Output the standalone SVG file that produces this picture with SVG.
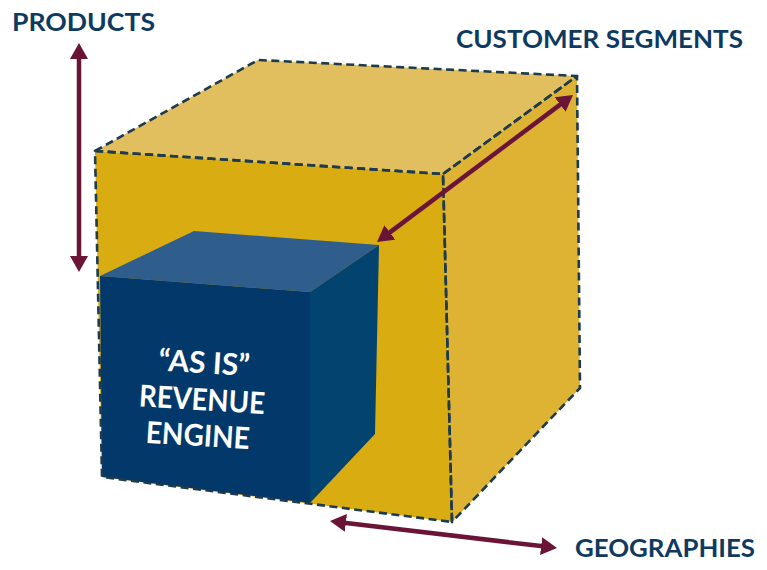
<svg xmlns="http://www.w3.org/2000/svg" width="767" height="570" viewBox="0 0 767 570">
<style>
.lbl{font-family:Lato,"Liberation Sans",sans-serif;font-weight:700;fill:#0E3A62;font-size:25px}
.inner{font-family:Lato,"Liberation Sans",sans-serif;font-weight:700;fill:#FFFFFF;font-size:30px;text-anchor:middle}
.dash{fill:none;stroke:#1D3B4C;stroke-width:2.6;stroke-dasharray:8 4.5;stroke-linejoin:round}
.arr{stroke:#6A1438;stroke-width:4.5;fill:none;marker-start:url(#head);marker-end:url(#head)}
</style>
<defs>
<marker id="head" viewBox="0 0 16 18" refX="2" refY="9" markerWidth="16" markerHeight="18" markerUnits="userSpaceOnUse" orient="auto-start-reverse">
<path d="M0,0 L16,9 L0,18 z" fill="#6A1438"/>
</marker>
</defs>
<rect width="767" height="570" fill="#FFFFFF"/>
<g id="outer-cube">
<polygon points="95,151 258,60 577,76 443,174" fill="#E1BF5E"/>
<polygon points="443,174 577,76 580,388 452,522" fill="#DEB232"/>
<polygon points="95,151 443,174 452,522 102,477" fill="#D9AC12"/>
</g>
<g id="as-is-engine">
<polygon points="100,276 194,231 379,245 310,292" fill="#2F5E8C"/>
<polygon points="310,292 379,245 375,434 310,503" fill="#03436F"/>
<polygon points="100,276 310,292 310,503 102,477" fill="#03396A"/>
<g transform="rotate(3.5 200 400)">
<text class="inner" x="202" y="373">“AS IS”</text>
<text class="inner" x="202" y="410" textLength="126" lengthAdjust="spacingAndGlyphs">REVENUE</text>
<text class="inner" x="200" y="446" textLength="104" lengthAdjust="spacingAndGlyphs">ENGINE</text>
</g>
</g>
<g id="outer-cube-edges">
<polygon class="dash" points="95,151 258,60 577,76 443,174"/>
<polygon class="dash" points="443,174 577,76 580,388 452,522"/>
<polygon class="dash" points="95,151 443,174 452,522 102,477"/>
</g>
<g id="connectors">
<line class="arr" x1="79" y1="57" x2="79" y2="258"/>
<line class="arr" x1="388.2" y1="233.6" x2="561.8" y2="103.4"/>
<line class="arr" x1="343.9" y1="522.7" x2="543.1" y2="546.3"/>
</g>
<g id="label-products"><text class="lbl" x="12" y="31" textLength="143" lengthAdjust="spacingAndGlyphs">PRODUCTS</text></g>
<g id="label-customer-segments"><text class="lbl" x="456" y="48" textLength="287" lengthAdjust="spacingAndGlyphs">CUSTOMER SEGMENTS</text></g>
<g id="label-geographies"><text class="lbl" x="575" y="557" textLength="180" lengthAdjust="spacingAndGlyphs">GEOGRAPHIES</text></g>
</svg>
